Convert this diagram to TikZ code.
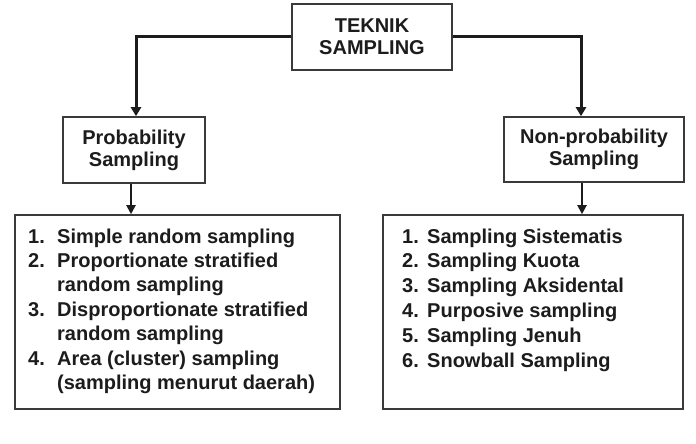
\documentclass[tikz,border=0pt]{standalone}
\usepackage{fontspec}
\setmainfont{Liberation Sans}
\usetikzlibrary{arrows.meta}
\definecolor{ink}{HTML}{1C1C1C}
\definecolor{edge}{HTML}{3A3A3A}
\begin{document}
\begin{tikzpicture}[x=1pt,y=1pt,
  box/.style={draw=edge,line width=1.6pt,fill=white,inner sep=0pt,text=ink,
    font=\bfseries\fontsize{20}{22}\selectfont,align=center},
  items/.style={inner sep=0pt,text=ink,anchor=base west},
  bigarrow/.style={draw=ink,line width=3pt,-{Triangle[width=10pt,length=9pt]}},
  smallarrow/.style={draw=ink,line width=2pt,-{Triangle[width=9pt,length=9pt]}}]
\useasboundingbox[fill=white] (0,0) rectangle (696,-444);
\node[box,minimum width=160pt,minimum height=66pt] (top) at (372,-37) {TEKNIK\\SAMPLING};
\node[box,minimum width=142pt,minimum height=66pt] (prob) at (134,-150) {Probability\\Sampling};
\node[box,minimum width=180pt,minimum height=65pt] (nonprob) at (594,-149.5) {Non-probability\\Sampling};
\node[box,minimum width=325pt,minimum height=194pt] (leftlist) at (177.5,-312) {};
\node[box,minimum width=300pt,minimum height=194pt] (rightlist) at (533,-312) {};
\node[items] (leftitems) at (28,-243) {\bfseries\fontsize{20}{24.4}\selectfont
\begin{tabular}[t]{@{}p{29pt}@{}l@{}}
1. & Simple random sampling\\
2. & Proportionate stratified\\
   & random sampling\\
3. & Disproportionate stratified\\
   & random sampling\\
4. & Area (cluster) sampling\\
   & (sampling menurut daerah)
\end{tabular}};
\node[items] (rightitems) at (402,-243) {\bfseries\fontsize{20}{24.8}\selectfont
\begin{tabular}[t]{@{}p{25pt}@{}l@{}}
1. & Sampling Sistematis\\
2. & Sampling Kuota\\
3. & Sampling Aksidental\\
4. & Purposive sampling\\
5. & Sampling Jenuh\\
6. & Snowball Sampling
\end{tabular}};
\draw[bigarrow] (top.west) -| ([xshift=2pt]prob.north);
\draw[bigarrow] (top.east) -| ([xshift=-13pt]nonprob.north);
\draw[smallarrow] ([xshift=-3pt]prob.south) -- ([xshift=-3pt]prob.south |- leftlist.north);
\draw[smallarrow] ([xshift=-12pt]nonprob.south) -- ([xshift=-12pt]nonprob.south |- rightlist.north);
\end{tikzpicture}
\end{document}
